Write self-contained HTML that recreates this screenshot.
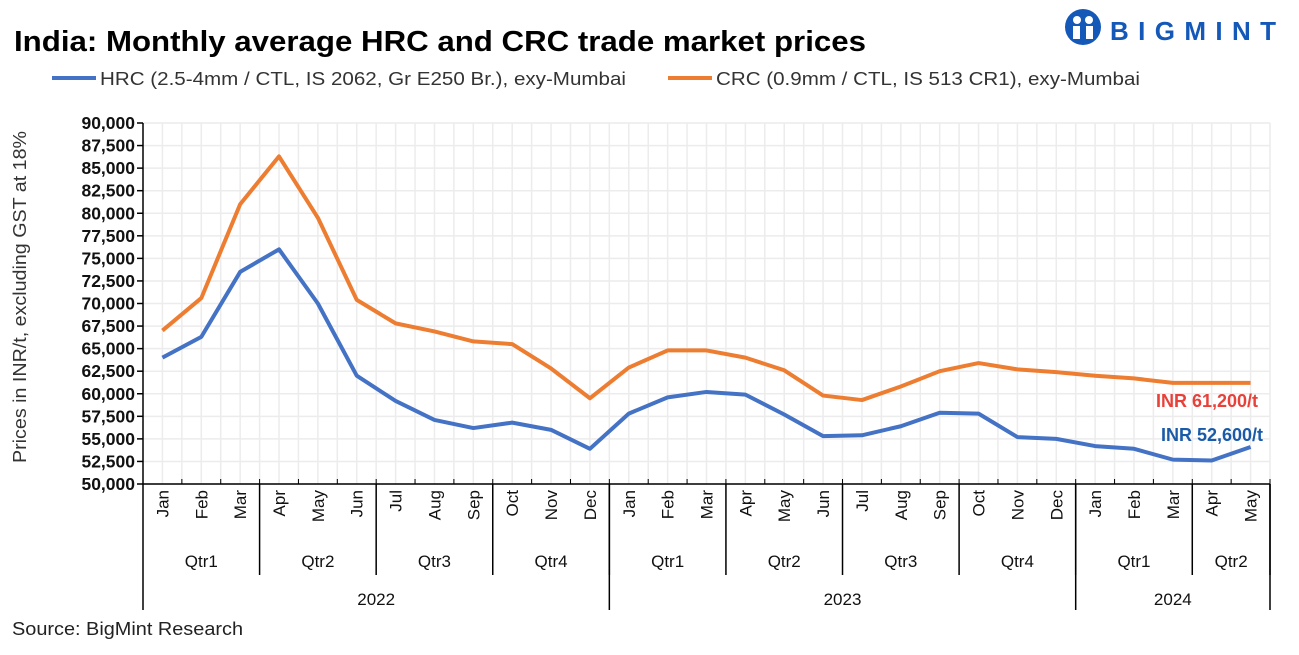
<!DOCTYPE html>
<html><head><meta charset="utf-8"><style>
body{margin:0;background:#fff;width:1299px;height:650px;overflow:hidden;font-family:"Liberation Sans",sans-serif}
</style></head><body>
<svg width="1299" height="650" xmlns="http://www.w3.org/2000/svg" font-family="Liberation Sans, sans-serif">
<text x="14" y="51" font-size="29" font-weight="bold" fill="#000" textLength="852" lengthAdjust="spacingAndGlyphs">India: Monthly average HRC and CRC trade market prices</text>
<g>
<circle cx="1083" cy="27" r="18" fill="#1458b8"/>
<circle cx="1077" cy="20" r="4" fill="#fff"/><circle cx="1089" cy="20" r="4" fill="#fff"/>
<rect x="1073" y="26" width="7" height="13" fill="#fff"/><rect x="1086" y="26" width="7" height="13" fill="#fff"/>
<text x="1110" y="40" font-size="26" font-weight="bold" fill="#1458b8" textLength="166" lengthAdjust="spacing">BIGMINT</text>
</g>
<g>
<line x1="52" y1="78" x2="96" y2="78" stroke="#4472c4" stroke-width="4"/>
<text x="100" y="85" font-size="18" fill="#333" textLength="526" lengthAdjust="spacingAndGlyphs">HRC (2.5-4mm / CTL, IS 2062, Gr E250 Br.), exy-Mumbai</text>
<line x1="668" y1="78" x2="712" y2="78" stroke="#ed7d31" stroke-width="4"/>
<text x="716" y="85" font-size="18" fill="#333" textLength="424" lengthAdjust="spacingAndGlyphs">CRC (0.9mm / CTL, IS 513 CR1), exy-Mumbai</text>
</g>
<text transform="translate(26,297) rotate(-90)" text-anchor="middle" font-size="18" fill="#333" textLength="332" lengthAdjust="spacingAndGlyphs">Prices in INR/t, excluding GST at 18%</text>
<g id="grid"></g><g id="axes"></g><g id="series"></g>
<text x="1258" y="407" text-anchor="end" font-size="18" font-weight="bold" fill="#e8413a">INR 61,200/t</text>
<text x="1263" y="441" text-anchor="end" font-size="18" font-weight="bold" fill="#1a5aa8">INR 52,600/t</text>
<text x="12" y="635" font-size="18" fill="#222" textLength="231" lengthAdjust="spacingAndGlyphs">Source: BigMint Research</text>
</svg>
<script>
const months=["Jan","Feb","Mar","Apr","May","Jun","Jul","Aug","Sep","Oct","Nov","Dec","Jan","Feb","Mar","Apr","May","Jun","Jul","Aug","Sep","Oct","Nov","Dec","Jan","Feb","Mar","Apr","May"];
const quarters=[["Qtr1",3],["Qtr2",3],["Qtr3",3],["Qtr4",3],["Qtr1",3],["Qtr2",3],["Qtr3",3],["Qtr4",3],["Qtr1",3],["Qtr2",2]];
const years=[["2022",12],["2023",12],["2024",5]];
const hrc=[64000,66300,73500,76000,70000,62000,59200,57100,56200,56800,56000,53900,57800,59600,60200,59900,57700,55300,55400,56400,57900,57800,55200,55000,54200,53900,52700,52600,54100];
const crc=[67000,70600,81000,86300,79500,70400,67800,66900,65800,65500,62800,59500,62900,64800,64800,64000,62600,59800,59300,60800,62500,63400,62700,62400,62000,61700,61200,61200,61200];
const yTicks=[50000,52500,55000,57500,60000,62500,65000,67500,70000,72500,75000,77500,80000,82500,85000,87500,90000];
const X0=143,X1=1270,Y0=484,Y1=123,N=months.length,cw=(X1-X0)/N;
const xc=i=>X0+cw*(i+0.5);
const y=v=>Y0-(v-50000)/40000*(Y0-Y1);
const NS="http://www.w3.org/2000/svg";
function mk(t,a,p){const e=document.createElementNS(NS,t);for(const k in a)e.setAttribute(k,a[k]);p.appendChild(e);return e;}
const grid=document.getElementById('grid'),axes=document.getElementById('axes'),series=document.getElementById('series');
for(let k=1;k<=2*N;k++){const gx=X0+k*cw/2;mk('line',{x1:gx,x2:gx,y1:Y1,y2:Y0,stroke:'#ececec','stroke-width':1.5},grid);}
yTicks.forEach(v=>{
 mk('line',{x1:X0,x2:X1,y1:y(v),y2:y(v),stroke:'#ececec','stroke-width':1.5},grid);
 mk('line',{x1:X0-6,x2:X0,y1:y(v),y2:y(v),stroke:'#000','stroke-width':1.5},axes);
 const t=mk('text',{x:X0-8,y:y(v)+6,'text-anchor':'end','font-size':17.5,'font-weight':'bold',fill:'#111'},axes);
 t.textContent=v.toLocaleString('en-US');
 
 
});
mk('line',{x1:X0,x2:X0,y1:Y1,y2:610,stroke:'#000','stroke-width':1.5},axes);
mk('line',{x1:X0,x2:X1,y1:Y0,y2:Y0,stroke:'#000','stroke-width':1.5},axes);
for(let i=1;i<=N;i++){const bx=X0+i*cw;mk('line',{x1:bx,x2:bx,y1:Y0-5,y2:Y0,stroke:'#000','stroke-width':1},axes);}
months.forEach((m,i)=>{
 const t=mk('text',{transform:`translate(${xc(i)+6},490) rotate(-90)`,'text-anchor':'end','font-size':17,fill:'#111'},axes);
 t.textContent=m;
 
 
});
let s=0;quarters.forEach(q=>{
 const cx=X0+(s+q[1]/2)*cw;
 const t=mk('text',{x:cx,y:567,'text-anchor':'middle','font-size':17,fill:'#111'},axes);t.textContent=q[0];
 
 
 s+=q[1];mk('line',{x1:X0+s*cw,x2:X0+s*cw,y1:Y0,y2:575,stroke:'#000','stroke-width':1.5},axes);
});
s=0;years.forEach(q=>{
 const cx=X0+(s+q[1]/2)*cw;
 const t=mk('text',{x:cx,y:605,'text-anchor':'middle','font-size':17,fill:'#111'},axes);t.textContent=q[0];
 
 
 s+=q[1];mk('line',{x1:X0+s*cw,x2:X0+s*cw,y1:Y0,y2:610,stroke:'#000','stroke-width':1.5},axes);
});
[[crc,'#ed7d31','crc-line'],[hrc,'#4472c4','hrc-line']].forEach(([d,c,n])=>{
 const p=mk('polyline',{points:d.map((v,i)=>xc(i)+','+y(v)).join(' '),fill:'none',stroke:c,'stroke-width':4,'stroke-linejoin':'round'},series);
 
 
});
</script>
</body></html>
